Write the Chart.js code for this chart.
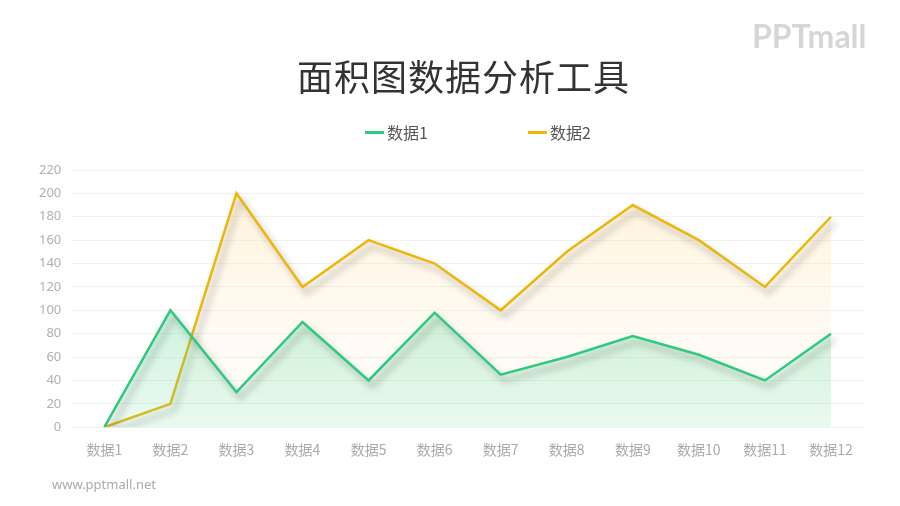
<!DOCTYPE html>
<html>
<head>
<meta charset="utf-8">
<script src="https://cdn.jsdelivr.net/npm/chart.js@4"></script>
<style>
  html, body { margin: 0; padding: 0; background: #fff; }
  #wrap { position: relative; width: 900px; height: 506px; font-family: "Noto Sans CJK SC", "Noto Sans", sans-serif; }
  #chart { position: absolute; left: 0; top: 0; }
  #title { position: absolute; left: 297px; top: 49px; font-size: 36px; color: #333; letter-spacing: 1px; white-space: nowrap; }
  #legend { position: absolute; top: 120px; left: 365px; display: flex; font-size: 16px; color: #555; }
  .item { display: flex; align-items: center; margin-right: 100px; }
  .mark { width: 19px; height: 3px; margin-right: 3px; }
  #logo { position: absolute; left: 752px; top: 16px; font-family: "Lato", sans-serif; font-weight: bold; font-size: 32px; color: #d6d6d6; }
  #site { position: absolute; left: 52px; top: 475px; font-family: "Noto Sans", sans-serif; font-size: 13px; color: #aaa; }
</style>
</head>
<body>
<div id="wrap">
  <canvas id="chart" width="900" height="506"></canvas>
  <div id="title">面积图数据分析工具</div>
  <div id="legend"></div>
  <div id="logo">PPTmall</div>
  <div id="site">www.pptmall.net</div>
</div>
<script>
// Data
const categories = ['数据1', '数据2', '数据3', '数据4', '数据5', '数据6', '数据7', '数据8', '数据9', '数据10', '数据11', '数据12'];
const series1 = [0, 100, 30, 90, 40, 98, 45, 60, 78, 62, 40, 80];
const series2 = [0, 20, 200, 120, 160, 140, 100, 150, 190, 160, 120, 180];
const seriesNames = ['数据1', '数据2'];
const seriesColors = ['#2fc97f', '#eab70a'];

// Vertical gradient for the area under each line
function areaFill(top, bottom) {
    return function(context) {
        const area = context.chart.chartArea;
        if (!area) return top;
        const g = context.chart.ctx.createLinearGradient(0, area.top, 0, area.bottom);
        g.addColorStop(0, top);
        g.addColorStop(1, bottom);
        return g;
    };
}

// Soft grey shadow under the lines (fill is drawn before this by the filler plugin)
const lineShadow = {
    id: 'lineShadow',
    beforeDatasetDraw(chart) {
        const ctx = chart.ctx;
        ctx.save();
        ctx.shadowColor = 'rgba(0, 0, 0, 0.32)';
        ctx.shadowBlur = 7;
        ctx.shadowOffsetX = 4;
        ctx.shadowOffsetY = 6;
    },
    afterDatasetDraw(chart) {
        chart.ctx.restore();
    }
};

const ctx = document.getElementById('chart').getContext('2d');
const chart = new Chart(ctx, {
    type: 'line',
    data: {
        labels: categories,
        datasets: [
            {
                label: seriesNames[0],
                data: series1,
                borderColor: seriesColors[0],
                borderWidth: 2.5,
                backgroundColor: areaFill('rgba(70, 210, 140, 0.5)', 'rgba(90, 215, 150, 0.12)'),
                fill: 'origin',
                pointRadius: 0,
                tension: 0
            },
            {
                label: seriesNames[1],
                data: series2,
                borderColor: seriesColors[1],
                borderWidth: 2.5,
                backgroundColor: areaFill('rgba(255, 215, 140, 0.35)', 'rgba(255, 235, 200, 0.05)'),
                fill: 'origin',
                pointRadius: 0,
                tension: 0
            }
        ]
    },
    options: {
        responsive: false,
        animation: false,
        layout: {
            padding: { top: 170, left: 29, right: 36, bottom: 42 }
        },
        plugins: {
            legend: { display: false },
            title: { display: false },
            tooltip: { enabled: false }
        },
        scales: {
            x: {
                offset: true,
                grid: { display: false },
                border: { display: false },
                ticks: {
                    color: '#aaaaaa',
                    padding: 6,
                    font: { size: 14, family: '"Noto Sans CJK SC", sans-serif' }
                }
            },
            y: {
                min: 0,
                max: 220,
                grid: { color: '#f1f1f1', drawTicks: false },
                border: { display: false },
                ticks: {
                    stepSize: 20,
                    color: '#b0b0b0',
                    padding: 10,
                    font: { size: 13, family: '"Noto Sans", sans-serif' }
                }
            }
        }
    },
    plugins: [lineShadow]
});

// Legend built from the datasets
const legend = document.getElementById('legend');
chart.data.datasets.forEach(ds => {
    const item = document.createElement('div');
    item.className = 'item';
    const mark = document.createElement('span');
    mark.className = 'mark';
    mark.style.background = ds.borderColor;
    const text = document.createElement('span');
    text.textContent = ds.label;
    item.appendChild(mark);
    item.appendChild(text);
    legend.appendChild(item);
});
</script>
</body>
</html>
